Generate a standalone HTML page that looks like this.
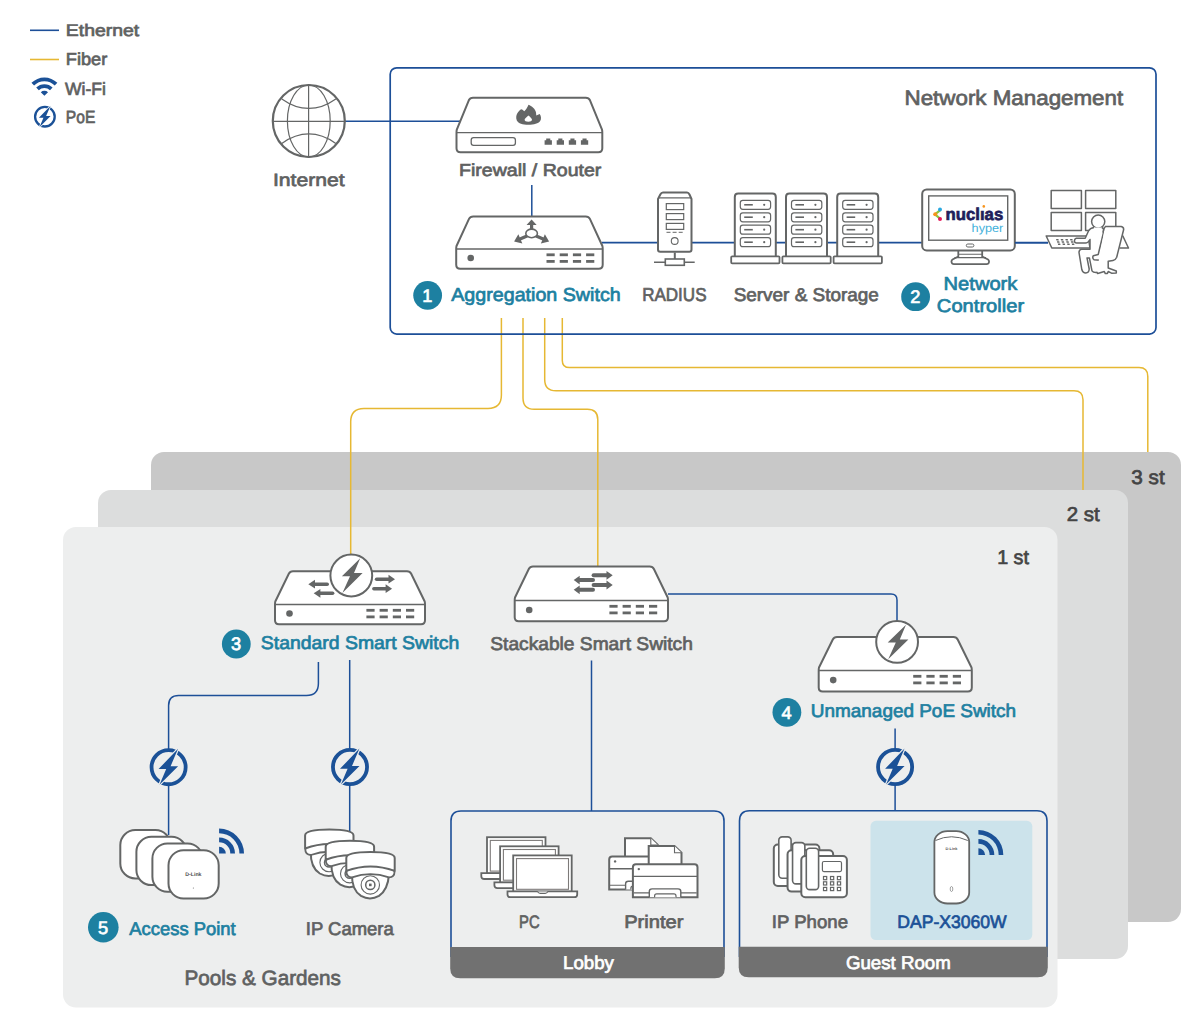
<!DOCTYPE html>
<html><head><meta charset="utf-8"><style>
html,body{margin:0;padding:0;background:#fff;}
svg{display:block;}
text{font-family:"Liberation Sans",sans-serif;text-rendering:geometricPrecision;}
</style></head><body>
<svg width="1200" height="1034" viewBox="0 0 1200 1034">
<rect width="1200" height="1034" fill="#fff"/>
<rect x="151" y="452" width="1030" height="470" rx="13" fill="#c8c8c8"/>
<rect x="98" y="490" width="1030" height="469" rx="13" fill="#dcdddd"/>
<rect x="63" y="527" width="994.5" height="480.5" rx="13" fill="#edeeee"/>
<path d="M30,30.3 H59" stroke="#1d4f98" stroke-width="1.6"/>
<path d="M30,59.5 H59" stroke="#e6b833" stroke-width="1.6"/>
<text x="65.85" y="36.45" font-size="16.74" fill="#5f6161" stroke="#5f6161" stroke-width="0.7" textLength="73.41" lengthAdjust="spacingAndGlyphs" >Ethernet</text>
<text x="65.85" y="65.45" font-size="17.32" fill="#5f6161" stroke="#5f6161" stroke-width="0.7" textLength="41.47" lengthAdjust="spacingAndGlyphs" >Fiber</text>
<text x="65.05" y="94.55" font-size="17.75" fill="#5f6161" stroke="#5f6161" stroke-width="0.7" textLength="40.94" lengthAdjust="spacingAndGlyphs" >Wi-Fi</text>
<text x="65.85" y="122.65" font-size="17.61" fill="#5f6161" stroke="#5f6161" stroke-width="0.7" textLength="29.50" lengthAdjust="spacingAndGlyphs" >PoE</text>
<path d="M31.46,82.86 A18.3,18.3 0 0 1 57.34,82.86 L54.72,85.48 A14.6,14.6 0 0 0 34.08,85.48 Z M36.20,87.60 A11.6,11.6 0 0 1 52.60,87.60 L49.99,90.21 A7.9,7.9 0 0 0 38.81,90.21 Z M44.4,95.8 L40.79,92.19 A5.1,5.1 0 0 1 48.01,92.19 Z" fill="#1b5197"/>
<circle cx="44.9" cy="116.7" r="9.8" fill="#ffffff" stroke="#1b5197" stroke-width="2.3"/><polygon points="50.57,105.66 38.90,117.78 43.46,117.78 39.44,127.20 50.60,116.10 46.10,116.10" fill="#1b5197" stroke="#ffffff" stroke-width="1.44" stroke-linejoin="miter" paint-order="stroke"/>
<path d="M501.4,318 V395 Q501.4,408.4 488,408.4 H364 Q350.7,408.4 350.7,421.8 V554" fill="none" stroke="#e6b833" stroke-width="1.5"/>
<path d="M523,318 V398 Q523,409.3 534.3,409.3 H587.4 Q597.8,409.3 597.8,419.7 V566" fill="none" stroke="#e6b833" stroke-width="1.5"/>
<path d="M544.7,318 V379.4 Q544.7,390.7 556,390.7 H1074 Q1083,390.7 1083,399.7 V490" fill="none" stroke="#e6b833" stroke-width="1.5"/>
<path d="M562.3,318 V360.4 Q562.3,367.6 569.5,367.6 H1139 Q1147.8,367.6 1147.8,376.4 V452" fill="none" stroke="#e6b833" stroke-width="1.5"/>
<rect x="390.2" y="67.8" width="765.8" height="266.3" rx="6.5" fill="none" stroke="#1d4f98" stroke-width="1.7"/>
<text x="904.55" y="104.95" font-size="20.94" fill="#5f6161" stroke="#5f6161" stroke-width="0.7" textLength="218.64" lengthAdjust="spacingAndGlyphs" >Network Management</text>
<path d="M345,121.3 H460" stroke="#1d4f98" stroke-width="1.6"/>
<path d="M531.8,185 V216" stroke="#1d4f98" stroke-width="1.5"/>
<path d="M602,242.6 H1048" stroke="#1d4f98" stroke-width="1.6"/>
<g fill="none" stroke="#646666"><circle cx="308.8" cy="121" r="36" stroke-width="2.2"/><ellipse cx="308.8" cy="121" rx="21.4" ry="36" stroke-width="1.2"/><path d="M308.6,85 V157 M273,121.4 H344.6" stroke-width="1.2"/><path d="M281.8,98.9 Q308.8,118 335.8,98.9 M281.8,143.4 Q308.8,124.5 335.8,143.4" stroke-width="1.2"/></g>
<text x="272.95" y="185.65" font-size="17.75" fill="#5f6161" stroke="#5f6161" stroke-width="0.7" textLength="71.72" lengthAdjust="spacingAndGlyphs" >Internet</text>
<path d="M473.0,97.8 H585.8 Q588.8,97.8 590.0,100.3 L602.0,129.6 Q602.3,130.6 602.3,132.6 V148.2 Q602.3,152.2 598.3,152.2 H460.5 Q456.5,152.2 456.5,148.2 V132.6 Q456.5,130.6 456.8,129.6 L468.8,100.3 Q470.0,97.8 473.0,97.8 Z" fill="#fff" stroke="#646666" stroke-width="2" stroke-linejoin="round"/>
<path d="M456.5,132.6 H602.3" stroke="#646666" stroke-width="1.3"/>
<rect x="471.2" y="137.6" width="44.2" height="7.8" rx="2.4" fill="#fff" stroke="#646666" stroke-width="1.3"/>
<path d="M544.6,144.8 V140.3 H546.2 V138.5 H550.3 V140.3 H551.9 V144.8 Z" fill="#646666"/>
<path d="M556.7,144.8 V140.3 H558.3 V138.5 H562.4 V140.3 H564.0 V144.8 Z" fill="#646666"/>
<path d="M568.8,144.8 V140.3 H570.4 V138.5 H574.5 V140.3 H576.1 V144.8 Z" fill="#646666"/>
<path d="M580.9,144.8 V140.3 H582.5 V138.5 H586.6 V140.3 H588.2 V144.8 Z" fill="#646666"/>
<path d="M528.5,104.8 C531.5,105.8 535.5,109 536,112.5 L536.3,115.6 C537.5,115.2 538.5,114.6 539.7,114 C541.3,115.8 541.5,119.5 540,121.3 C538.5,123.5 534,124.8 528.3,124.8 C522.5,124.8 518.5,123.5 516.8,120.5 C515.6,117.5 516.3,114.5 518,112.3 C519,110.8 520,109.8 521,109.2 C522.5,109.5 523.5,110.5 524.3,111.3 C526,109.5 527.3,108 528.5,104.8 Z M528.5,115.5 C530,117 532,118.3 532,119.8 C532,121 530.5,121.7 528.3,121.7 C526,121.7 524.6,121 524.6,119.8 C524.6,118.3 527,117 528.5,115.5 Z" fill="#646666" fill-rule="evenodd"/>
<text x="459.05" y="176.45" font-size="17.32" fill="#5f6161" stroke="#5f6161" stroke-width="0.7" textLength="142.30" lengthAdjust="spacingAndGlyphs" >Firewall / Router</text>
<path d="M473.2,216.4 H585.7 Q588.7,216.4 589.9,218.9 L602.4,246.0 Q602.7,247.0 602.7,249.0 V264.8 Q602.7,268.8 598.7,268.8 H460.2 Q456.2,268.8 456.2,264.8 V249.0 Q456.2,247.0 456.5,246.0 L469.0,218.9 Q470.2,216.4 473.2,216.4 Z" fill="#fff" stroke="#646666" stroke-width="2" stroke-linejoin="round"/>
<path d="M456.2,249.0 H602.7" stroke="#646666" stroke-width="1.3"/>
<circle cx="470.7" cy="258.0" r="3.3" fill="#646666"/>
<rect x="546.5" y="253.4" width="8.2" height="2.8" fill="#646666"/>
<rect x="546.5" y="260.0" width="8.2" height="2.8" fill="#646666"/>
<rect x="559.7" y="253.4" width="8.2" height="2.8" fill="#646666"/>
<rect x="559.7" y="260.0" width="8.2" height="2.8" fill="#646666"/>
<rect x="572.9" y="253.4" width="8.2" height="2.8" fill="#646666"/>
<rect x="572.9" y="260.0" width="8.2" height="2.8" fill="#646666"/>
<rect x="586.1" y="253.4" width="8.2" height="2.8" fill="#646666"/>
<rect x="586.1" y="260.0" width="8.2" height="2.8" fill="#646666"/>
<path d="M531.60,229.50 L531.60,224.60" stroke="#646666" stroke-width="3.2" stroke-linecap="round"/><polygon points="531.60,219.50 536.66,224.90 526.54,224.90" fill="#646666"/>
<path d="M527.00,236.00 L520.06,239.01" stroke="#646666" stroke-width="3.2" stroke-linecap="round"/><polygon points="514.10,241.60 518.35,234.31 522.33,243.48" fill="#646666"/>
<path d="M536.20,236.00 L543.14,239.01" stroke="#646666" stroke-width="3.2" stroke-linecap="round"/><polygon points="549.10,241.60 540.87,243.48 544.85,234.31" fill="#646666"/>
<ellipse cx="531.6" cy="233.4" rx="5.8" ry="4.3" fill="#fff" stroke="#646666" stroke-width="1.6"/>
<g fill="#fff" stroke="#646666"><path d="M663,192.5 H687 Q688.5,192.5 689.5,194.5 L691.5,199 V249.5 Q691.5,251.7 689.3,251.7 H660.3 Q658,251.7 658,249.5 V199 L660.3,194.5 Q661.3,192.5 663,192.5 Z" stroke-width="2"/><path d="M658.5,197.8 H691" stroke-width="1.2"/><rect x="666.3" y="203.6" width="17.4" height="6" stroke-width="1.2"/><rect x="666.3" y="213.6" width="17.4" height="6" stroke-width="1.2"/><rect x="666.3" y="223.4" width="17.4" height="6" stroke-width="1.2"/><path d="M666.5,232.3 H670.5 M672.6,232.3 H676.6 M678.7,232.3 H682.7" stroke-width="1"/><circle cx="674.7" cy="241" r="3.4" stroke-width="1.1"/><path d="M674.8,252.5 V259" stroke-width="2"/><path d="M654,262.2 H665.3 M684.3,262.2 H694.7" stroke-width="1.6"/><rect x="665.3" y="259" width="19" height="6.3" stroke-width="1.6"/></g>
<text x="642.15" y="300.75" font-size="18.62" fill="#5f6161" stroke="#5f6161" stroke-width="0.7" textLength="64.37" lengthAdjust="spacingAndGlyphs" >RADIUS</text>
<g fill="#fff" stroke="#646666"><path d="M734.8,256 V197 Q734.8,193.6 738.2,193.6 H772.4 Q775.8,193.6 775.8,197 V256" stroke-width="2"/><rect x="731.2" y="256.3" width="48.3" height="7" rx="1" stroke-width="1.8"/>
<rect x="740.3" y="200.3" width="30.3" height="9" rx="2.5" stroke-width="1.2"/><path d="M744.2,204.8 H752.8" stroke-width="1.6"/>
<circle cx="764.2" cy="204.8" r="1.1" fill="#646666" stroke="none"/>
<rect x="740.3" y="212.8" width="30.3" height="9" rx="2.5" stroke-width="1.2"/><path d="M744.2,217.2 H752.8" stroke-width="1.6"/>
<circle cx="764.2" cy="217.2" r="1.1" fill="#646666" stroke="none"/>
<rect x="740.3" y="225.2" width="30.3" height="9" rx="2.5" stroke-width="1.2"/><path d="M744.2,229.7 H752.8" stroke-width="1.6"/>
<circle cx="764.2" cy="229.7" r="1.1" fill="#646666" stroke="none"/>
<rect x="740.3" y="237.7" width="30.3" height="9" rx="2.5" stroke-width="1.2"/><path d="M744.2,242.2 H752.8" stroke-width="1.6"/>
<circle cx="764.2" cy="242.2" r="1.1" fill="#646666" stroke="none"/>
</g>
<g fill="#fff" stroke="#646666"><path d="M786.0,256 V197 Q786.0,193.6 789.4,193.6 H823.6 Q827.0,193.6 827.0,197 V256" stroke-width="2"/><rect x="782.4" y="256.3" width="48.3" height="7" rx="1" stroke-width="1.8"/>
<rect x="791.5" y="200.3" width="30.3" height="9" rx="2.5" stroke-width="1.2"/><path d="M795.4,204.8 H804.0" stroke-width="1.6"/>
<circle cx="815.4" cy="204.8" r="1.1" fill="#646666" stroke="none"/>
<rect x="791.5" y="212.8" width="30.3" height="9" rx="2.5" stroke-width="1.2"/><path d="M795.4,217.2 H804.0" stroke-width="1.6"/>
<circle cx="815.4" cy="217.2" r="1.1" fill="#646666" stroke="none"/>
<rect x="791.5" y="225.2" width="30.3" height="9" rx="2.5" stroke-width="1.2"/><path d="M795.4,229.7 H804.0" stroke-width="1.6"/>
<circle cx="815.4" cy="229.7" r="1.1" fill="#646666" stroke="none"/>
<rect x="791.5" y="237.7" width="30.3" height="9" rx="2.5" stroke-width="1.2"/><path d="M795.4,242.2 H804.0" stroke-width="1.6"/>
<circle cx="815.4" cy="242.2" r="1.1" fill="#646666" stroke="none"/>
</g>
<g fill="#fff" stroke="#646666"><path d="M837.2,256 V197 Q837.2,193.6 840.6,193.6 H874.8 Q878.2,193.6 878.2,197 V256" stroke-width="2"/><rect x="833.6" y="256.3" width="48.3" height="7" rx="1" stroke-width="1.8"/>
<rect x="842.7" y="200.3" width="30.3" height="9" rx="2.5" stroke-width="1.2"/><path d="M846.6,204.8 H855.2" stroke-width="1.6"/>
<circle cx="866.6" cy="204.8" r="1.1" fill="#646666" stroke="none"/>
<rect x="842.7" y="212.8" width="30.3" height="9" rx="2.5" stroke-width="1.2"/><path d="M846.6,217.2 H855.2" stroke-width="1.6"/>
<circle cx="866.6" cy="217.2" r="1.1" fill="#646666" stroke="none"/>
<rect x="842.7" y="225.2" width="30.3" height="9" rx="2.5" stroke-width="1.2"/><path d="M846.6,229.7 H855.2" stroke-width="1.6"/>
<circle cx="866.6" cy="229.7" r="1.1" fill="#646666" stroke="none"/>
<rect x="842.7" y="237.7" width="30.3" height="9" rx="2.5" stroke-width="1.2"/><path d="M846.6,242.2 H855.2" stroke-width="1.6"/>
<circle cx="866.6" cy="242.2" r="1.1" fill="#646666" stroke="none"/>
</g>
<text x="733.65" y="301.15" font-size="18.33" fill="#5f6161" stroke="#5f6161" stroke-width="0.7" textLength="145.21" lengthAdjust="spacingAndGlyphs" >Server & Storage</text>
<g stroke="#646666" fill="#fff"><path d="M958.3,250.5 V256.5 L952.5,259.5 Q951.3,260.3 951.5,262 Q951.8,264.2 954,264.2 H986.5 Q988.8,264.2 989,262 Q989.2,260.3 988,259.5 L982.2,256.5 V250.5" stroke-width="1.8"/><path d="M958.3,254.2 H982.2 M954.5,257.6 H986" stroke-width="1.1"/><rect x="922.2" y="189.4" width="92.6" height="61" rx="4.5" stroke-width="2"/><rect x="928.7" y="195.9" width="79" height="44.3" stroke-width="1.4"/><rect x="966.3" y="244" width="7.6" height="3" rx="1.5" stroke-width="1"/></g>
<g><path d="M940,210.3 L935,214.3 L940,218.6" fill="none" stroke="#8dc63f" stroke-width="2.2"/><circle cx="940" cy="209.6" r="2" fill="#29a8e0"/><circle cx="935.2" cy="214.3" r="2" fill="#f7941d"/><circle cx="940" cy="219" r="2" fill="#e6195a"/></g>
<text x="945.6" y="219.6" font-size="17" font-weight="bold" fill="#1f1f5c" stroke="#1f1f5c" stroke-width="0.7" textLength="57.6" lengthAdjust="spacingAndGlyphs">nucl&#x131;as</text>
<circle cx="983.8" cy="206.4" r="1.3" fill="#f7941d"/>
<text x="971.6" y="231.8" font-size="11.8" font-weight="normal" fill="#3fb1db" textLength="31.7" lengthAdjust="spacingAndGlyphs" style="font-weight:normal">hyper</text>
<g fill="none" stroke="#646666" stroke-width="1.5" stroke-linejoin="round"><rect x="1051.2" y="190.5" width="30.2" height="18"/><rect x="1085.6" y="190.5" width="30.2" height="18"/><rect x="1051.2" y="212.5" width="30.2" height="18"/><rect x="1085.6" y="212.5" width="30.2" height="18"/></g>
<g fill="#fff" stroke="#646666" stroke-width="1.5" stroke-linejoin="round"><path d="M1046.2,236 H1088 L1090,248 H1051.8 Z"/><path d="M1122.6,235.5 L1128.5,248 H1119.6"/><circle cx="1098.2" cy="221.6" r="6.6"/><path d="M1094,227.5 Q1090,228 1088.5,231 L1085.2,238.2 H1076.2 Q1074.4,238.7 1074.4,241 Q1074.6,243 1076.6,243 H1085.5 Q1088,243 1090,239.5 V249.2 H1081.3 Q1079,249.8 1079,252.5 L1081.8,269.5 Q1082.8,273 1085.8,273 Q1089,272.8 1089.2,269 L1087,257.9 H1089.4 L1092,270.8 Q1093,272.5 1096,272.5 L1102,270.8 L1102.5,260.5 L1094,259.7 Q1092,258 1093.3,255.7 L1098.2,254.5 L1104.2,229.5 Q1103,228 1101.8,227.5"/><path d="M1105,226.6 H1121.2 Q1124,227.3 1123.6,229.8 L1116.7,257.2 Q1115.5,260 1113,260.4 L1108.2,261.3 V268 L1116.3,271 V273 L1111.5,273.2 L1108.2,271.5 L1107.4,273.6 H1105.3 L1104.3,271.5 L1097.7,273.5 L1096.6,272"/><path d="M1102.9,232.5 Q1103.6,228.3 1105.2,226.8"/></g>
<g fill="#646666"><path d="M1056.00,239.00 h2.4 l0.45,1.6 h-2.4 Z"/><path d="M1056.85,241.25 h2.4 l0.45,1.6 h-2.4 Z"/><path d="M1057.70,243.50 h2.4 l0.45,1.6 h-2.4 Z"/><path d="M1060.65,239.00 h2.4 l0.45,1.6 h-2.4 Z"/><path d="M1061.50,241.25 h2.4 l0.45,1.6 h-2.4 Z"/><path d="M1062.35,243.50 h2.4 l0.45,1.6 h-2.4 Z"/><path d="M1065.30,239.00 h2.4 l0.45,1.6 h-2.4 Z"/><path d="M1066.15,241.25 h2.4 l0.45,1.6 h-2.4 Z"/><path d="M1067.00,243.50 h2.4 l0.45,1.6 h-2.4 Z"/><path d="M1069.95,239.00 h2.4 l0.45,1.6 h-2.4 Z"/><path d="M1070.80,241.25 h2.4 l0.45,1.6 h-2.4 Z"/><path d="M1071.65,243.50 h2.4 l0.45,1.6 h-2.4 Z"/></g>
<path d="M1015,242.8 H1048" stroke="#1d4f98" stroke-width="1.6"/>
<circle cx="427.65" cy="295.35" r="14.4" fill="#1d80a1"/><text x="427.35" y="301.75" font-size="18.2" fill="#fff" stroke="#fff" stroke-width="0.7" text-anchor="middle">1</text>
<text x="451.25" y="300.75" font-size="18.77" fill="#1d80a1" stroke="#1d80a1" stroke-width="0.7" textLength="169.43" lengthAdjust="spacingAndGlyphs" >Aggregation Switch</text>
<circle cx="915.6" cy="296.7" r="14.4" fill="#1d80a1"/><text x="915.30" y="303.10" font-size="18.2" fill="#fff" stroke="#fff" stroke-width="0.7" text-anchor="middle">2</text>
<text x="943.55" y="290.15" font-size="18.77" fill="#1d80a1" stroke="#1d80a1" stroke-width="0.7" textLength="73.85" lengthAdjust="spacingAndGlyphs" >Network</text>
<text x="936.85" y="311.75" font-size="18.33" fill="#1d80a1" stroke="#1d80a1" stroke-width="0.7" textLength="87.30" lengthAdjust="spacingAndGlyphs" >Controller</text>
<text x="1131.35" y="483.65" font-size="19.78" fill="#444" stroke="#444" stroke-width="0.7" textLength="33.34" lengthAdjust="spacingAndGlyphs" >3 st</text>
<text x="1066.75" y="520.65" font-size="20.07" fill="#444" stroke="#444" stroke-width="0.7" textLength="32.94" lengthAdjust="spacingAndGlyphs" >2 st</text>
<text x="997.15" y="563.55" font-size="19.78" fill="#444" stroke="#444" stroke-width="0.7" textLength="31.84" lengthAdjust="spacingAndGlyphs" >1 st</text>
<path d="M318.4,662 V683.6 Q318.4,695.6 306.4,695.6 H178.6 Q168.6,695.6 168.6,705.6 V835" fill="none" stroke="#1d4f98" stroke-width="1.5"/>
<path d="M349.7,660 V832" fill="none" stroke="#1d4f98" stroke-width="1.5"/>
<path d="M591.5,660.5 V811" fill="none" stroke="#1d4f98" stroke-width="1.5"/>
<path d="M668,593.9 H891 Q897,593.9 897,599.9 V621" fill="none" stroke="#1d4f98" stroke-width="1.5"/>
<path d="M895.1,728.6 V811" fill="none" stroke="#1d4f98" stroke-width="1.5"/>
<path d="M293.0,571.2 H407.0 Q410.0,571.2 411.2,573.7 L424.7,601.5 Q425.0,602.5 425.0,604.5 V620.3 Q425.0,624.3 421.0,624.3 H279.0 Q275.0,624.3 275.0,620.3 V604.5 Q275.0,602.5 275.3,601.5 L288.8,573.7 Q290.0,571.2 293.0,571.2 Z" fill="#fff" stroke="#646666" stroke-width="2" stroke-linejoin="round"/>
<path d="M275.0,604.5 H425.0" stroke="#646666" stroke-width="1.3"/>
<circle cx="289.5" cy="613.5" r="3.3" fill="#646666"/>
<rect x="366.4" y="608.9" width="8.2" height="2.8" fill="#646666"/>
<rect x="366.4" y="615.5" width="8.2" height="2.8" fill="#646666"/>
<rect x="379.6" y="608.9" width="8.2" height="2.8" fill="#646666"/>
<rect x="379.6" y="615.5" width="8.2" height="2.8" fill="#646666"/>
<rect x="392.8" y="608.9" width="8.2" height="2.8" fill="#646666"/>
<rect x="392.8" y="615.5" width="8.2" height="2.8" fill="#646666"/>
<rect x="406.0" y="608.9" width="8.2" height="2.8" fill="#646666"/>
<rect x="406.0" y="615.5" width="8.2" height="2.8" fill="#646666"/>
<path d="M327.20,584.20 L314.70,584.20" stroke="#646666" stroke-width="3.6" stroke-linecap="round"/><polygon points="308.30,584.20 315.00,579.80 315.00,588.60" fill="#646666"/>
<path d="M332.60,593.30 L320.10,593.30" stroke="#646666" stroke-width="3.6" stroke-linecap="round"/><polygon points="313.70,593.30 320.40,588.90 320.40,597.70" fill="#646666"/>
<path d="M376.60,579.20 L388.80,579.20" stroke="#646666" stroke-width="3.6" stroke-linecap="round"/><polygon points="395.00,579.20 388.50,583.60 388.50,574.80" fill="#646666"/>
<path d="M373.90,588.70 L385.90,588.70" stroke="#646666" stroke-width="3.6" stroke-linecap="round"/><polygon points="392.10,588.70 385.60,593.10 385.60,584.30" fill="#646666"/>
<circle cx="351.3" cy="575.5" r="20.9" fill="#fff" stroke="#646666" stroke-width="2"/><polygon points="360.20,558.30 341.90,576.20 350.00,576.20 342.40,592.90 362.60,573.00 354.00,573.00" fill="#646666"/>
<circle cx="236.3" cy="644" r="14.4" fill="#1d80a1"/><text x="236.00" y="650.40" font-size="18.2" fill="#fff" stroke="#fff" stroke-width="0.7" text-anchor="middle">3</text>
<text x="260.85" y="649.45" font-size="18.33" fill="#1d80a1" stroke="#1d80a1" stroke-width="0.7" textLength="198.34" lengthAdjust="spacingAndGlyphs" >Standard Smart Switch</text>
<path d="M533.0,566.5 H649.7 Q652.7,566.5 653.9,569.0 L667.7,597.5 Q668.0,598.5 668.0,600.5 V617.2 Q668.0,621.2 664.0,621.2 H518.7 Q514.7,621.2 514.7,617.2 V600.5 Q514.7,598.5 515.0,597.5 L528.8,569.0 Q530.0,566.5 533.0,566.5 Z" fill="#fff" stroke="#646666" stroke-width="2" stroke-linejoin="round"/>
<path d="M514.7,600.5 H668.0" stroke="#646666" stroke-width="1.3"/>
<circle cx="529.2" cy="610.0" r="3.3" fill="#646666"/>
<rect x="609.4" y="604.9" width="8.2" height="2.8" fill="#646666"/>
<rect x="609.4" y="611.5" width="8.2" height="2.8" fill="#646666"/>
<rect x="622.6" y="604.9" width="8.2" height="2.8" fill="#646666"/>
<rect x="622.6" y="611.5" width="8.2" height="2.8" fill="#646666"/>
<rect x="635.8" y="604.9" width="8.2" height="2.8" fill="#646666"/>
<rect x="635.8" y="611.5" width="8.2" height="2.8" fill="#646666"/>
<rect x="649.0" y="604.9" width="8.2" height="2.8" fill="#646666"/>
<rect x="649.0" y="611.5" width="8.2" height="2.8" fill="#646666"/>
<path d="M593.60,575.30 L606.80,575.30" stroke="#646666" stroke-width="4.0" stroke-linecap="round"/><polygon points="612.70,575.30 606.50,579.70 606.50,570.90" fill="#646666"/>
<path d="M593.60,585.00 L606.80,585.00" stroke="#646666" stroke-width="4.0" stroke-linecap="round"/><polygon points="612.70,585.00 606.50,589.40 606.50,580.60" fill="#646666"/>
<path d="M593.00,580.10 L579.40,580.10" stroke="#646666" stroke-width="4.0" stroke-linecap="round"/><polygon points="573.70,580.10 579.70,575.70 579.70,584.50" fill="#646666"/>
<path d="M593.00,589.80 L579.40,589.80" stroke="#646666" stroke-width="4.0" stroke-linecap="round"/><polygon points="573.70,589.80 579.70,585.40 579.70,594.20" fill="#646666"/>
<text x="490.25" y="649.65" font-size="18.33" fill="#5f6161" stroke="#5f6161" stroke-width="0.7" textLength="202.60" lengthAdjust="spacingAndGlyphs" >Stackable Smart Switch</text>
<path d="M837.0,637.0 H953.5 Q956.5,637.0 957.7,639.5 L971.5,667.5 Q971.8,668.5 971.8,670.5 V687.6 Q971.8,691.6 967.8,691.6 H822.7 Q818.7,691.6 818.7,687.6 V670.5 Q818.7,668.5 819.0,667.5 L832.8,639.5 Q834.0,637.0 837.0,637.0 Z" fill="#fff" stroke="#646666" stroke-width="2" stroke-linejoin="round"/>
<path d="M818.7,670.5 H971.8" stroke="#646666" stroke-width="1.3"/>
<circle cx="833.2" cy="680.1" r="3.3" fill="#646666"/>
<rect x="913.2" y="674.9" width="8.2" height="2.8" fill="#646666"/>
<rect x="913.2" y="681.5" width="8.2" height="2.8" fill="#646666"/>
<rect x="926.4" y="674.9" width="8.2" height="2.8" fill="#646666"/>
<rect x="926.4" y="681.5" width="8.2" height="2.8" fill="#646666"/>
<rect x="939.6" y="674.9" width="8.2" height="2.8" fill="#646666"/>
<rect x="939.6" y="681.5" width="8.2" height="2.8" fill="#646666"/>
<rect x="952.8" y="674.9" width="8.2" height="2.8" fill="#646666"/>
<rect x="952.8" y="681.5" width="8.2" height="2.8" fill="#646666"/>
<circle cx="897.1" cy="641.9" r="20.9" fill="#fff" stroke="#646666" stroke-width="2"/><polygon points="906.00,624.70 887.70,642.60 895.80,642.60 888.20,659.30 908.40,639.40 899.80,639.40" fill="#646666"/>
<circle cx="786.9" cy="712.3" r="14.4" fill="#1d80a1"/><text x="786.60" y="718.70" font-size="18.2" fill="#fff" stroke="#fff" stroke-width="0.7" text-anchor="middle">4</text>
<text x="810.85" y="717.45" font-size="18.33" fill="#1d80a1" stroke="#1d80a1" stroke-width="0.7" textLength="205.19" lengthAdjust="spacingAndGlyphs" >Unmanaged PoE Switch</text>
<circle cx="168.6" cy="767.2" r="17.05" fill="#edeeee" stroke="#1b5197" stroke-width="3.80"/><polygon points="178.05,748.80 158.60,769.00 166.20,769.00 159.50,784.70 178.10,766.20 170.60,766.20" fill="#1b5197" stroke="#edeeee" stroke-width="2.40" stroke-linejoin="miter" paint-order="stroke"/>
<circle cx="350.0" cy="767.0" r="17.05" fill="#edeeee" stroke="#1b5197" stroke-width="3.80"/><polygon points="359.45,748.60 340.00,768.80 347.60,768.80 340.90,784.50 359.50,766.00 352.00,766.00" fill="#1b5197" stroke="#edeeee" stroke-width="2.40" stroke-linejoin="miter" paint-order="stroke"/>
<circle cx="895.1" cy="767.0" r="17.05" fill="#edeeee" stroke="#1b5197" stroke-width="3.80"/><polygon points="904.55,748.60 885.10,768.80 892.70,768.80 886.00,784.50 904.60,766.00 897.10,766.00" fill="#1b5197" stroke="#edeeee" stroke-width="2.40" stroke-linejoin="miter" paint-order="stroke"/>
<rect x="120.3" y="830.1" width="50.2" height="48.3" rx="15" fill="#fff" stroke="#646666" stroke-width="2"/>
<rect x="136.4" y="836.8" width="50.2" height="48.3" rx="15" fill="#fff" stroke="#646666" stroke-width="2"/>
<rect x="152.4" y="843.5" width="50.2" height="48.3" rx="15" fill="#fff" stroke="#646666" stroke-width="2"/>
<rect x="168.5" y="850.2" width="50.2" height="48.3" rx="15" fill="#fff" stroke="#646666" stroke-width="2"/>
<text x="185.3" y="875.8" font-size="5.2" font-weight="bold" fill="#4a4a4a" textLength="16.2" lengthAdjust="spacingAndGlyphs">D-Link</text>
<circle cx="193.4" cy="888" r="0.6" fill="#777"/>
<path d="M219.10,828.60 A24.90,24.90 0 0 1 244.00,853.50 H239.40 A20.30,20.30 0 0 0 219.10,833.20 Z M219.10,837.60 A15.90,15.90 0 0 1 235.00,853.50 H230.30 A11.20,11.20 0 0 0 219.10,842.30 Z M219.10,853.50 V846.80 A6.70,6.70 0 0 1 225.80,853.50 Z" fill="#1b5197"/>
<circle cx="103.3" cy="927.3" r="15.3" fill="#1d80a1"/><text x="103.00" y="933.70" font-size="18.2" fill="#fff" stroke="#fff" stroke-width="0.7" text-anchor="middle">5</text>
<text x="129.25" y="934.65" font-size="18.33" fill="#1d80a1" stroke="#1d80a1" stroke-width="0.7" textLength="106.41" lengthAdjust="spacingAndGlyphs" >Access Point</text>
<g transform="translate(304.80,829.50)" fill="#fff" stroke="#646666" stroke-linejoin="round"><path d="M6,22 Q5.5,38 15,44 Q24,49 33,44 Q42,38 43,22 Z" stroke-width="2"/><circle cx="24.3" cy="33" r="9.2" stroke-width="1.1"/><circle cx="24.3" cy="33" r="4.6" stroke-width="1.5"/><rect x="23" y="31.7" width="2.6" height="2.6" fill="#646666" stroke="none"/><path d="M0.5,20 Q0.5,25 6,25.5 Q24.5,19 43,25.5 Q48.5,25 48.5,20 Q47,13.5 24.5,13.5 Q2,13.5 0.5,20 Z" stroke-width="1.8"/><path d="M0.3,19 V6 Q0.3,0 24.5,0 Q48.7,0 48.7,6 V19 Q24.5,10 0.3,19 Z" stroke-width="2"/></g>
<g transform="translate(325.40,840.70)" fill="#fff" stroke="#646666" stroke-linejoin="round"><path d="M6,22 Q5.5,38 15,44 Q24,49 33,44 Q42,38 43,22 Z" stroke-width="2"/><circle cx="24.3" cy="33" r="9.2" stroke-width="1.1"/><circle cx="24.3" cy="33" r="4.6" stroke-width="1.5"/><rect x="23" y="31.7" width="2.6" height="2.6" fill="#646666" stroke="none"/><path d="M0.5,20 Q0.5,25 6,25.5 Q24.5,19 43,25.5 Q48.5,25 48.5,20 Q47,13.5 24.5,13.5 Q2,13.5 0.5,20 Z" stroke-width="1.8"/><path d="M0.3,19 V6 Q0.3,0 24.5,0 Q48.7,0 48.7,6 V19 Q24.5,10 0.3,19 Z" stroke-width="2"/></g>
<g transform="translate(346.00,851.90)" fill="#fff" stroke="#646666" stroke-linejoin="round"><path d="M6,22 Q5.5,38 15,44 Q24,49 33,44 Q42,38 43,22 Z" stroke-width="2"/><circle cx="24.3" cy="33" r="9.2" stroke-width="1.1"/><circle cx="24.3" cy="33" r="4.6" stroke-width="1.5"/><rect x="23" y="31.7" width="2.6" height="2.6" fill="#646666" stroke="none"/><path d="M0.5,20 Q0.5,25 6,25.5 Q24.5,19 43,25.5 Q48.5,25 48.5,20 Q47,13.5 24.5,13.5 Q2,13.5 0.5,20 Z" stroke-width="1.8"/><path d="M0.3,19 V6 Q0.3,0 24.5,0 Q48.7,0 48.7,6 V19 Q24.5,10 0.3,19 Z" stroke-width="2"/></g>
<text x="305.85" y="934.65" font-size="18.33" fill="#5f6161" stroke="#5f6161" stroke-width="0.7" textLength="87.93" lengthAdjust="spacingAndGlyphs" >IP Camera</text>
<text x="184.55" y="985.45" font-size="20.80" fill="#5f6161" stroke="#5f6161" stroke-width="0.7" textLength="156.30" lengthAdjust="spacingAndGlyphs" >Pools & Gardens</text>
<path d="M451,957 V821 Q451,811 461,811 H714 Q724,811 724,821 V957" fill="none" stroke="#1d4f98" stroke-width="1.6"/>
<path d="M450.2,946.9 H724.8 V968.3 Q724.8,978.3 714.8,978.3 H460.2 Q450.2,978.3 450.2,968.3 Z" fill="#717171"/>
<text x="563.05" y="968.65" font-size="18.33" fill="#fff" stroke="#fff" stroke-width="0.7" textLength="50.89" lengthAdjust="spacingAndGlyphs" >Lobby</text>
<g transform="translate(487.00,837.20)" fill="#fff" stroke="#646666"><rect x="0" y="0" width="58.5" height="36.3" stroke-width="1.8"/><rect x="3.3" y="3.2" width="52" height="30.7" stroke-width="1.1" stroke="#7d7a79"/><path d="M-5.7,36 H64 V39 Q64,41.8 61,41.8 H-2.7 Q-5.7,41.8 -5.7,39 Z" stroke-width="1.8"/><path d="M24.3,36.2 Q25.3,38 27,38 H32 Q33.7,38 34.7,36.2" stroke-width="1.1"/></g>
<g transform="translate(500.10,846.30)" fill="#fff" stroke="#646666"><rect x="0" y="0" width="58.5" height="36.3" stroke-width="1.8"/><rect x="3.3" y="3.2" width="52" height="30.7" stroke-width="1.1" stroke="#7d7a79"/><path d="M-5.7,36 H64 V39 Q64,41.8 61,41.8 H-2.7 Q-5.7,41.8 -5.7,39 Z" stroke-width="1.8"/><path d="M24.3,36.2 Q25.3,38 27,38 H32 Q33.7,38 34.7,36.2" stroke-width="1.1"/></g>
<g transform="translate(513.20,855.40)" fill="#fff" stroke="#646666"><rect x="0" y="0" width="58.5" height="36.3" stroke-width="1.8"/><rect x="3.3" y="3.2" width="52" height="30.7" stroke-width="1.1" stroke="#7d7a79"/><path d="M-5.7,36 H64 V39 Q64,41.8 61,41.8 H-2.7 Q-5.7,41.8 -5.7,39 Z" stroke-width="1.8"/><path d="M24.3,36.2 Q25.3,38 27,38 H32 Q33.7,38 34.7,36.2" stroke-width="1.1"/></g>
<g transform="translate(609.00,837.60)" fill="#fff" stroke="#646666"><path d="M16,19 V0.7 H41.8 L48.8,7.4 V19" stroke-width="2"/><path d="M41.8,0.7 V7.4 H48.8" stroke-width="1.1"/><path d="M0.2,52 V22 Q0.2,19 3.2,19 H61.8 Q64.8,19 64.8,22 V52 Z" stroke-width="2"/><path d="M0.2,31.1 H64.8" stroke-width="1.4"/><circle cx="6.1" cy="23.8" r="1.2" fill="#646666" stroke="none"/><path d="M1,47.6 H16.6 M48,47.6 H64" stroke-width="1.1"/><path d="M16.6,52 V46.2 Q16.6,43.6 19.4,43.6 H45.3 Q48.1,43.6 48.1,46.2 V52" stroke-width="1.4"/><path d="M21.9,52 V50.6 Q21.9,48.6 24,48.6 H41.2 Q43.3,48.6 43.3,50.6 V52" stroke-width="1.2"/></g>
<g transform="translate(632.70,845.30)" fill="#fff" stroke="#646666"><path d="M16,19 V0.7 H41.8 L48.8,7.4 V19" stroke-width="2"/><path d="M41.8,0.7 V7.4 H48.8" stroke-width="1.1"/><path d="M0.2,52 V22 Q0.2,19 3.2,19 H61.8 Q64.8,19 64.8,22 V52 Z" stroke-width="2"/><path d="M0.2,31.1 H64.8" stroke-width="1.4"/><circle cx="6.1" cy="23.8" r="1.2" fill="#646666" stroke="none"/><path d="M1,47.6 H16.6 M48,47.6 H64" stroke-width="1.1"/><path d="M16.6,52 V46.2 Q16.6,43.6 19.4,43.6 H45.3 Q48.1,43.6 48.1,46.2 V52" stroke-width="1.4"/><path d="M21.9,52 V50.6 Q21.9,48.6 24,48.6 H41.2 Q43.3,48.6 43.3,50.6 V52" stroke-width="1.2"/></g>
<text x="519.05" y="928.45" font-size="18.04" fill="#5f6161" stroke="#5f6161" stroke-width="0.7" textLength="20.59" lengthAdjust="spacingAndGlyphs" >PC</text>
<text x="624.15" y="928.45" font-size="18.04" fill="#5f6161" stroke="#5f6161" stroke-width="0.7" textLength="59.31" lengthAdjust="spacingAndGlyphs" >Printer</text>
<path d="M739.5,957 V821 Q739.5,810.7 749.5,810.7 H1037 Q1047,810.7 1047,821 V957" fill="none" stroke="#1d4f98" stroke-width="1.6"/>
<path d="M738.7,946.7 H1047.8 V967.3 Q1047.8,977.3 1037.8,977.3 H748.7 Q738.7,977.3 738.7,967.3 Z" fill="#717171"/>
<text x="845.95" y="968.55" font-size="18.33" fill="#fff" stroke="#fff" stroke-width="0.7" textLength="104.77" lengthAdjust="spacingAndGlyphs" >Guest Room</text>
<rect x="870.5" y="820.8" width="161.8" height="119.2" rx="5.5" fill="#cce3eb"/>
<g transform="translate(773.80,844.60)" fill="#fff" stroke="#646666"><rect x="0" y="0" width="45.6" height="41.3" rx="4" stroke-width="2"/><rect x="5" y="-7.7" width="12.3" height="41.3" rx="3.4" stroke-width="1.6"/><rect x="21.1" y="5.5" width="19.1" height="10.1" rx="1.5" stroke-width="1.2"/><rect x="22.2" y="20.5" width="3.2" height="3.2" stroke-width="1.2"/><rect x="22.2" y="25.8" width="3.2" height="3.2" stroke-width="1.2"/><rect x="22.2" y="31.4" width="3.2" height="3.2" stroke-width="1.2"/><rect x="29.2" y="20.5" width="3.2" height="3.2" stroke-width="1.2"/><rect x="29.2" y="25.8" width="3.2" height="3.2" stroke-width="1.2"/><rect x="29.2" y="31.4" width="3.2" height="3.2" stroke-width="1.2"/><rect x="36.1" y="20.5" width="3.2" height="3.2" stroke-width="1.2"/><rect x="36.1" y="25.8" width="3.2" height="3.2" stroke-width="1.2"/><rect x="36.1" y="31.4" width="3.2" height="3.2" stroke-width="1.2"/></g>
<g transform="translate(787.55,850.30)" fill="#fff" stroke="#646666"><rect x="0" y="0" width="45.6" height="41.3" rx="4" stroke-width="2"/><rect x="5" y="-7.7" width="12.3" height="41.3" rx="3.4" stroke-width="1.6"/><rect x="21.1" y="5.5" width="19.1" height="10.1" rx="1.5" stroke-width="1.2"/><rect x="22.2" y="20.5" width="3.2" height="3.2" stroke-width="1.2"/><rect x="22.2" y="25.8" width="3.2" height="3.2" stroke-width="1.2"/><rect x="22.2" y="31.4" width="3.2" height="3.2" stroke-width="1.2"/><rect x="29.2" y="20.5" width="3.2" height="3.2" stroke-width="1.2"/><rect x="29.2" y="25.8" width="3.2" height="3.2" stroke-width="1.2"/><rect x="29.2" y="31.4" width="3.2" height="3.2" stroke-width="1.2"/><rect x="36.1" y="20.5" width="3.2" height="3.2" stroke-width="1.2"/><rect x="36.1" y="25.8" width="3.2" height="3.2" stroke-width="1.2"/><rect x="36.1" y="31.4" width="3.2" height="3.2" stroke-width="1.2"/></g>
<g transform="translate(801.30,856.00)" fill="#fff" stroke="#646666"><rect x="0" y="0" width="45.6" height="41.3" rx="4" stroke-width="2"/><rect x="5" y="-7.7" width="12.3" height="41.3" rx="3.4" stroke-width="1.6"/><rect x="21.1" y="5.5" width="19.1" height="10.1" rx="1.5" stroke-width="1.2"/><rect x="22.2" y="20.5" width="3.2" height="3.2" stroke-width="1.2"/><rect x="22.2" y="25.8" width="3.2" height="3.2" stroke-width="1.2"/><rect x="22.2" y="31.4" width="3.2" height="3.2" stroke-width="1.2"/><rect x="29.2" y="20.5" width="3.2" height="3.2" stroke-width="1.2"/><rect x="29.2" y="25.8" width="3.2" height="3.2" stroke-width="1.2"/><rect x="29.2" y="31.4" width="3.2" height="3.2" stroke-width="1.2"/><rect x="36.1" y="20.5" width="3.2" height="3.2" stroke-width="1.2"/><rect x="36.1" y="25.8" width="3.2" height="3.2" stroke-width="1.2"/><rect x="36.1" y="31.4" width="3.2" height="3.2" stroke-width="1.2"/></g>
<text x="771.85" y="928.15" font-size="18.04" fill="#5f6161" stroke="#5f6161" stroke-width="0.7" textLength="76.12" lengthAdjust="spacingAndGlyphs" >IP Phone</text>
<rect x="934.4" y="831.1" width="34.8" height="72.4" rx="13" ry="11" fill="#fff" stroke="#646666" stroke-width="1.8"/>
<path d="M935.5,840.5 Q951.5,833 967.8,840.5" fill="none" stroke="#646666" stroke-width="1"/>
<text x="951.5" y="849.6" font-size="3.8" font-weight="bold" fill="#555" text-anchor="middle">D-Link</text>
<ellipse cx="951.5" cy="889" rx="1.3" ry="2.5" fill="none" stroke="#646666" stroke-width="0.6"/>
<path d="M978.40,830.00 A24.90,24.90 0 0 1 1003.30,854.90 H998.70 A20.30,20.30 0 0 0 978.40,834.60 Z M978.40,839.00 A15.90,15.90 0 0 1 994.30,854.90 H989.60 A11.20,11.20 0 0 0 978.40,843.70 Z M978.40,854.90 V848.20 A6.70,6.70 0 0 1 985.10,854.90 Z" fill="#1b5197"/>
<text x="897.25" y="928.15" font-size="18.04" fill="#1b5197" stroke="#1b5197" stroke-width="0.7" textLength="109.40" lengthAdjust="spacingAndGlyphs" >DAP-X3060W</text>
</svg>
</body></html>
